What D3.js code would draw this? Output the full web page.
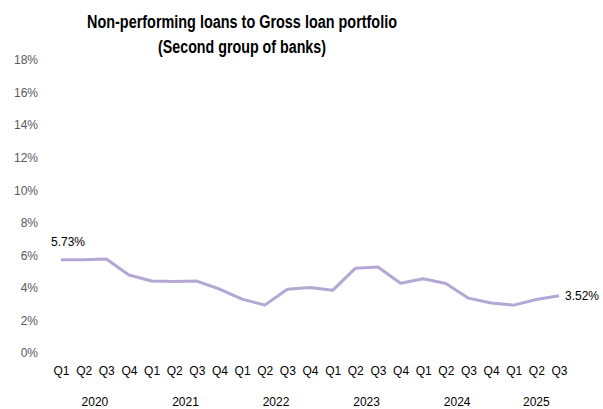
<!DOCTYPE html>
<html>
<head>
<meta charset="utf-8">
<script src="https://cdn.jsdelivr.net/npm/d3@7"></script>
<style>
  html, body { margin: 0; padding: 0; background: #ffffff; }
  svg { display: block; font-family: "Liberation Sans", Arial, sans-serif; }
</style>
</head>
<body>
<svg id="chart" width="603" height="409"></svg>
<script>
const quarters = ["Q1","Q2","Q3","Q4","Q1","Q2","Q3","Q4","Q1","Q2","Q3","Q4","Q1","Q2","Q3","Q4","Q1","Q2","Q3","Q4","Q1","Q2","Q3"];
const years = ["2020","2021","2022","2023","2024","2025"];
const yearOf = [0,0,0,0,1,1,1,1,2,2,2,2,3,3,3,3,4,4,4,4,5,5,5];
const npl = [5.73,5.73,5.78,4.79,4.42,4.39,4.42,3.93,3.31,2.94,3.91,4.03,3.85,5.20,5.28,4.28,4.56,4.27,3.37,3.07,2.94,3.29,3.52];
const yTicks = [0,2,4,6,8,10,12,14,16,18];
const titleLines = ["Non-performing loans to Gross loan portfolio", "(Second group of banks)"];
const titleWidths = [310, 168];

const svg = d3.select("#chart");
const idx = d3.range(npl.length);

const x = d3.scalePoint().domain(idx).range([61, 559]);
const y = d3.scaleLinear().domain([0, 18]).range([353, 60]);

// title
svg.append("g").selectAll("text").data(titleLines).join("text")
  .attr("x", 242).attr("y", (d, i) => 28 + i * 25)
  .attr("text-anchor", "middle")
  .attr("font-size", 18).attr("font-weight", "bold").attr("fill", "#000")
  .attr("textLength", (d, i) => titleWidths[i])
  .attr("lengthAdjust", "spacingAndGlyphs")
  .text(d => d);

// y axis (labels only)
const yAxis = d3.axisLeft(y).tickValues(yTicks).tickFormat(d => d + "%").tickSize(0).tickPadding(0);
const gy = svg.append("g").attr("transform", "translate(38,0)").call(yAxis);
gy.select(".domain").remove();
gy.selectAll("text").attr("font-size", 12).attr("fill", "#595959")
  .attr("font-family", "Liberation Sans, Arial, sans-serif");

// x axis quarter labels
const xAxis = d3.axisBottom(x).tickFormat(i => quarters[i]).tickSize(0).tickPadding(0);
const gx = svg.append("g").attr("transform", "translate(0,366)").call(xAxis);
gx.select(".domain").remove();
gx.selectAll("text").attr("font-size", 12).attr("fill", "#000")
  .attr("font-family", "Liberation Sans, Arial, sans-serif");

// year labels centered under groups
const yearPos = years.map((yr, k) => {
  const members = idx.filter(i => yearOf[i] === k);
  return { yr, cx: d3.mean(members, i => x(i)) };
});
svg.append("g").selectAll("text").data(yearPos).join("text")
  .attr("x", d => d.cx).attr("y", 406)
  .attr("text-anchor", "middle").attr("font-size", 12).attr("fill", "#000")
  .text(d => d.yr);

// line
const line = d3.line().x(i => x(i)).y(i => y(npl[i]));
svg.append("path").datum(idx)
  .attr("d", line).attr("fill", "none")
  .attr("stroke", "#b4a7d6").attr("stroke-width", 3)
  .attr("stroke-linejoin", "round");

// data labels
const first = 0, last = npl.length - 1;
svg.append("text").attr("x", x(first) - 10).attr("y", y(npl[first]) - 14)
  .attr("font-size", 12).attr("fill", "#000").text(npl[first].toFixed(2) + "%");
svg.append("text").attr("x", x(last) + 6).attr("y", y(npl[last]) + 4)
  .attr("font-size", 12).attr("fill", "#000").text(npl[last].toFixed(2) + "%");
</script>
</body>
</html>
